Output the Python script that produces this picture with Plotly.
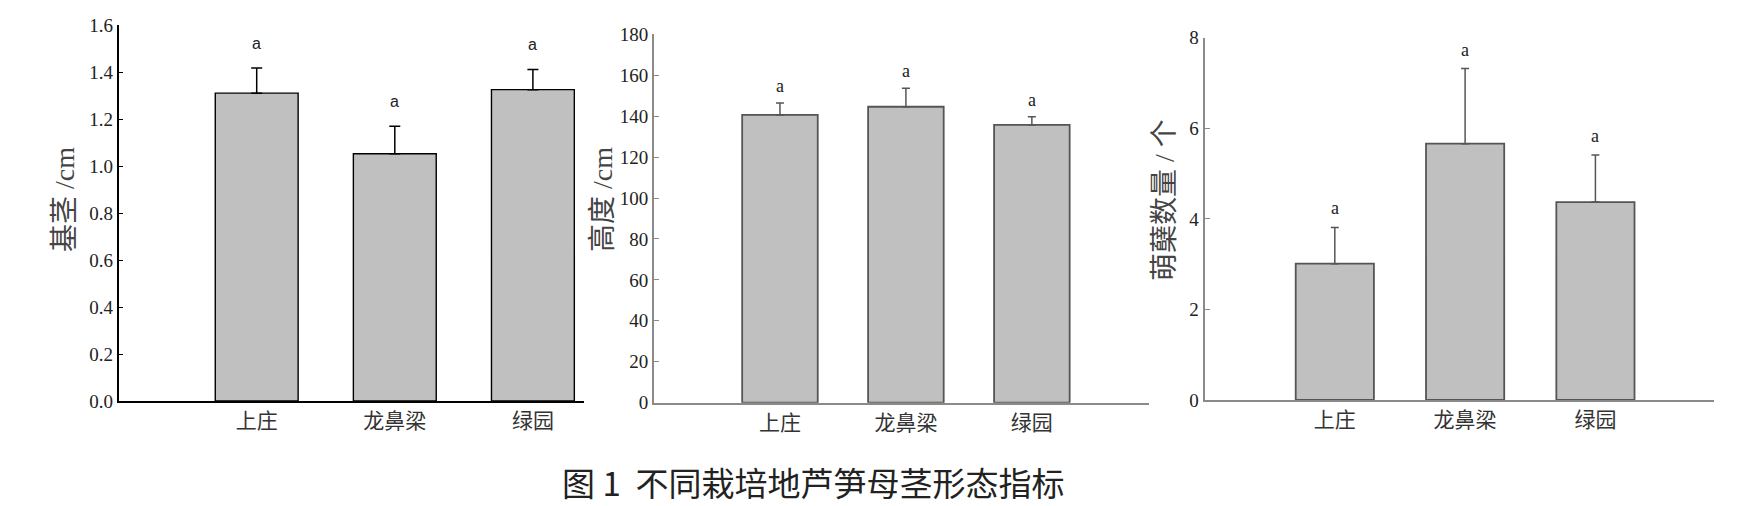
import plotly.graph_objects as go

W, H = 1747, 506

sites = ["上庄", "龙鼻梁", "绿园"]
stem_mean = [1.31, 1.052, 1.325]
stem_err = [0.107, 0.117, 0.086]
height_mean = [140.6, 144.6, 135.7]
height_err = [5.8, 9.0, 4.0]
sprout_mean = [3.01, 5.66, 4.37]
sprout_err = [0.80, 1.66, 1.04]
letters1 = ["a", "a", "a"]
letters2 = ["a", "a", "a"]
letters3 = ["a", "a", "a"]

y_titles = ["基茎 /cm", "高度 /cm", "萌蘖数量 / 个"]
fig_title = "图 1  不同栽培地芦笋母茎形态指标"

xpos = [0, 1, 2]
SERIF = "Liberation Serif, Times New Roman, Noto Sans CJK SC"

def px_x(p):
    return p / W

def px_y(p):
    return 1 - p / H

panels = [
    dict(mean=stem_mean, err=stem_err, letters=letters1, xdom=(118.6, 584), ydom=(401, 25),
         yrange=[0, 1.6], dtick=0.2, fmt=".1f", xr=[-1.0, 2.37], axcol="#000000", barline="#000000",
         errcol="#000000", cap=5.5, lshift=25, lfont="Liberation Sans, Arial", lsize=16, axw=1.5),
    dict(mean=height_mean, err=height_err, letters=letters2, xdom=(654, 1149), ydom=(402.7, 34.3),
         yrange=[0, 180], dtick=20, fmt="d", xr=[-1.0, 2.93], axcol="#8a8a8a", barline="#555555",
         errcol="#555555", cap=4, lshift=17, lfont=SERIF, lsize=18, axw=2),
    dict(mean=sprout_mean, err=sprout_err, letters=letters3, xdom=(1204.5, 1714), ydom=(400, 37.7),
         yrange=[0, 8], dtick=2, fmt="d", xr=[-1.0, 2.91], axcol="#8a8a8a", barline="#555555",
         errcol="#555555", cap=4, lshift=19, lfont=SERIF, lsize=18, axw=2),
]

fig = go.Figure()
layout = dict(width=W, height=H, margin=dict(l=0, r=0, t=0, b=0, pad=0),
              paper_bgcolor="white", plot_bgcolor="white", showlegend=False,
              bargap=0.4)
annotations = []

for i, p in enumerate(panels):
    n = "" if i == 0 else str(i + 1)
    xa, ya = "x" + n, "y" + n
    fig.add_trace(go.Bar(
        x=xpos, y=p["mean"], xaxis=xa, yaxis=ya, width=0.6,
        marker=dict(color="#c0c0c0", line=dict(color=p["barline"], width=1.8 if i else 1.4)),
        error_y=dict(type="data", array=p["err"], arrayminus=[0, 0, 0], symmetric=False,
                     color=p["errcol"], thickness=1.5, width=p["cap"]),
    ))
    layout["xaxis" + n] = dict(domain=[px_x(p["xdom"][0]), px_x(p["xdom"][1])], range=p["xr"],
                               anchor=ya, tickvals=xpos, ticktext=sites, ticks="",
                               showline=True, linecolor=p["axcol"], linewidth=p["axw"],
                               showgrid=False, zeroline=False, automargin=False,
                               tickfont=dict(family=SERIF, size=21, color="#333333"))
    layout["yaxis" + n] = dict(domain=[px_y(p["ydom"][0]), px_y(p["ydom"][1])], range=p["yrange"],
                               anchor=xa, dtick=p["dtick"], tick0=0, tickformat=p["fmt"],
                               ticks="inside", ticklen=5, tickcolor=p["axcol"], tickwidth=1,
                               showline=True, linecolor=p["axcol"], linewidth=p["axw"],
                               showgrid=False, zeroline=False, automargin=False,
                               tickfont=dict(family=SERIF, size=19, color="#222222"))
    for k in range(3):
        annotations.append(dict(x=xpos[k], y=p["mean"][k] + p["err"][k], xref=xa, yref=ya,
                                text=p["letters"][k], showarrow=False, yanchor="middle",
                                yshift=p["lshift"],
                                font=dict(family=p["lfont"], size=p["lsize"], color="#222222")))

title_pos = [(65, 200), (603, 200), (1165, 200)]
for t, (cx, cy) in zip(y_titles, title_pos):
    annotations.append(dict(x=px_x(cx), y=px_y(cy), xref="paper", yref="paper", text=t,
                            textangle=-90, showarrow=False, xanchor="center", yanchor="middle",
                            font=dict(family=SERIF, size=28, color="#444444")))

annotations.append(dict(x=px_x(813), y=px_y(482), xref="paper", yref="paper", text=fig_title,
                        showarrow=False, xanchor="center", yanchor="middle",
                        font=dict(family="Noto Sans CJK SC, Liberation Sans", size=33, color="#222222")))

layout["annotations"] = annotations
fig.update_layout(**layout)
fig.write_html("out.html", config={"displayModeBar": False},
               post_script="document.body.style.margin='0px';document.body.style.overflow='hidden';")
